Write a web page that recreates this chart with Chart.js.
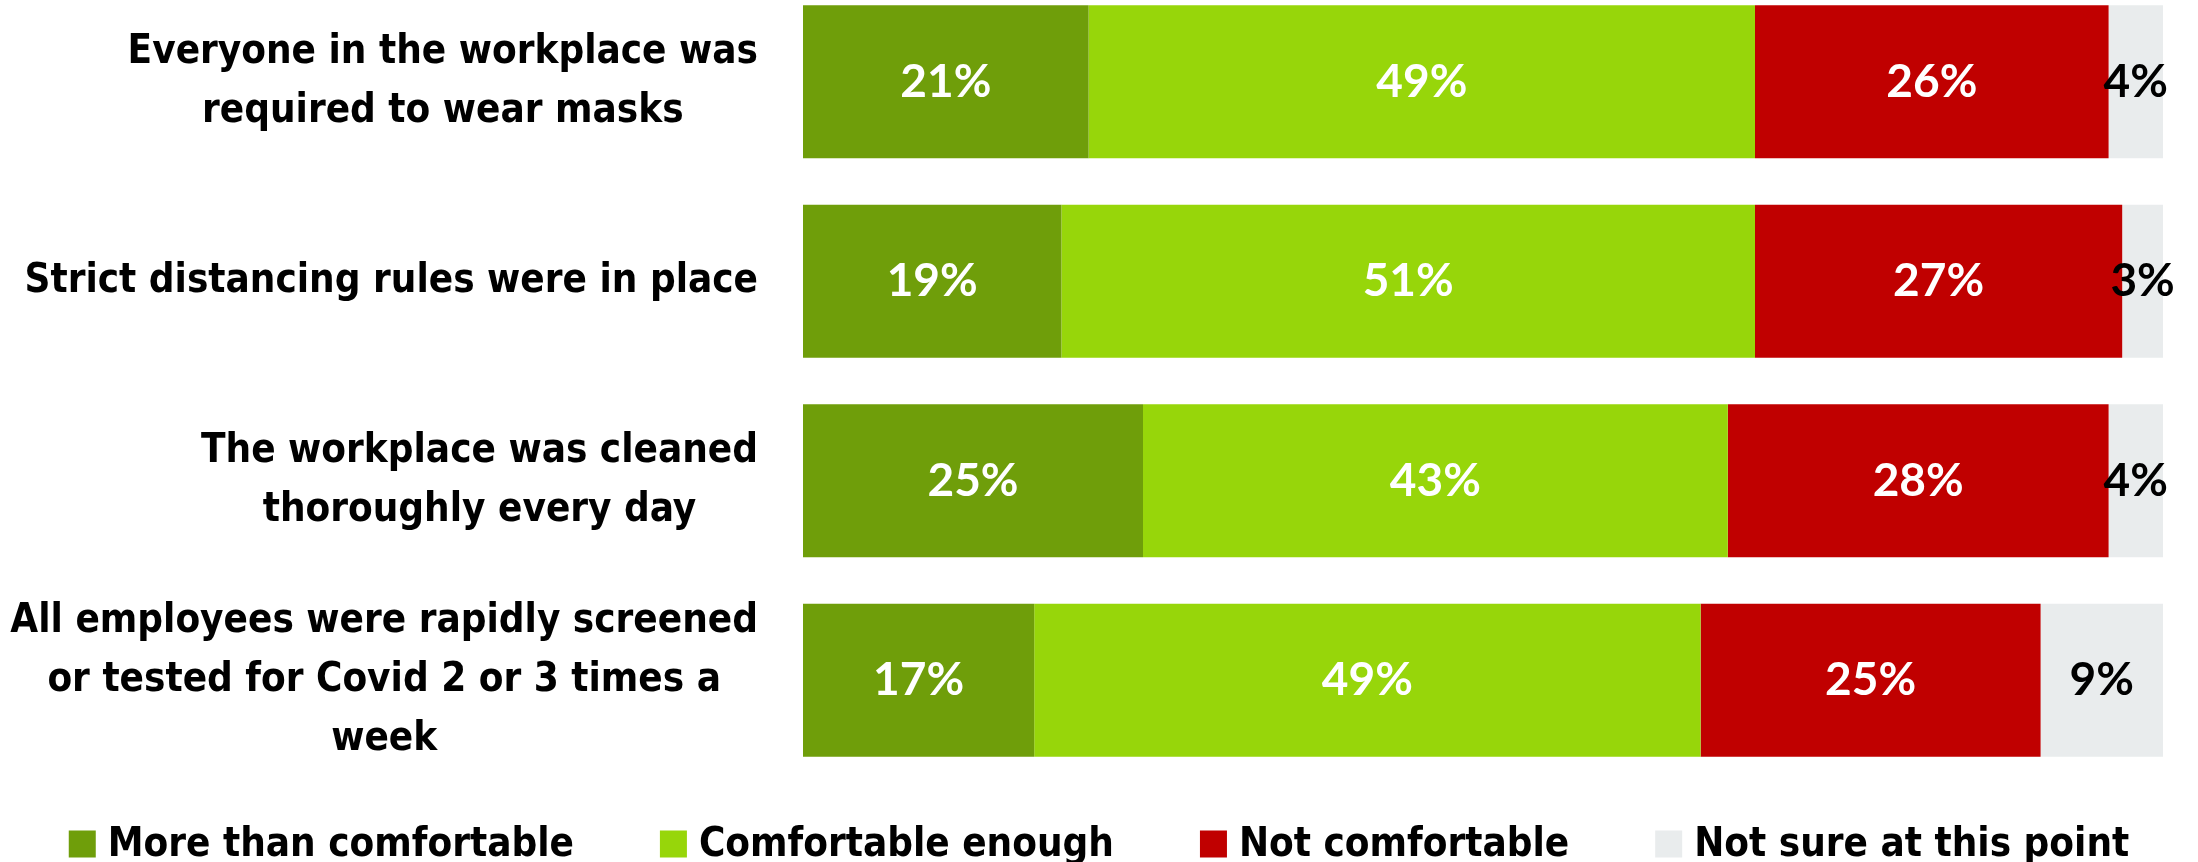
<!DOCTYPE html>
<html>
<head>
<meta charset="utf-8">
<script src="https://cdn.jsdelivr.net/npm/chart.js@4"></script>
<style>
  html, body { margin: 0; padding: 0; background: #ffffff; overflow: hidden; }
  /* canvas is taller than the page so the first row sits close to the top edge */
  canvas { display: block; margin-top: -18px; }
</style>
</head>
<body>
<canvas id="comfortChart" width="2198" height="880"></canvas>
<script>
// Survey question rows (each entry = the wrapped lines of one label)
const categories = [
  ['Everyone in the workplace was', 'required to wear masks'],
  ['Strict distancing rules were in place'],
  ['The workplace was cleaned', 'thoroughly every day'],
  ['All employees were rapidly screened', 'or tested for Covid 2 or 3 times a', 'week']
];

// Share of respondents per answer, in percent
const moreThanComfortable = [21, 19, 25, 17];
const comfortableEnough = [49, 51, 43, 49];
const notComfortable = [26, 27, 28, 25];
const notSure = [4, 3, 4, 9];

const seriesNames = ['More than comfortable', 'Comfortable enough', 'Not comfortable', 'Not sure at this point'];
const seriesValues = [moreThanComfortable, comfortableEnough, notComfortable, notSure];
const seriesColors = ['#6f9e0a', '#97d60a', '#c00000', '#e9eced'];
const valueColors = ['#ffffff', '#ffffff', '#ffffff', '#000000'];

const labelFont = 'bold 40px "DejaVu Sans Condensed", "DejaVu Sans", sans-serif';
const valueFont = 'bold 46px Lato, "Open Sans", sans-serif';

// Row labels: block is right-aligned to the bars, lines centred inside the block
const rowLabels = {
  id: 'rowLabels',
  afterDraw(chart) {
    const ctx = chart.ctx;
    const yScale = chart.scales.y;
    const right = chart.chartArea.left - 45;
    const lineHeight = 59;
    ctx.save();
    ctx.font = labelFont;
    ctx.fillStyle = '#000000';
    ctx.textAlign = 'center';
    ctx.textBaseline = 'middle';
    categories.forEach((lines, i) => {
      const widest = Math.max(...lines.map(l => ctx.measureText(l).width));
      const cx = right - widest / 2;
      const cy = yScale.getPixelForValue(i);
      const startY = cy - (lines.length - 1) * lineHeight / 2;
      lines.forEach((line, j) => ctx.fillText(line, cx, startY + j * lineHeight));
    });
    ctx.restore();
  }
};

// Percent labels centred in every segment
const segmentValues = {
  id: 'segmentValues',
  afterDatasetsDraw(chart) {
    const ctx = chart.ctx;
    ctx.save();
    ctx.font = valueFont;
    ctx.textAlign = 'center';
    ctx.textBaseline = 'middle';
    chart.data.datasets.forEach((ds, di) => {
      const meta = chart.getDatasetMeta(di);
      ctx.fillStyle = valueColors[di];
      meta.data.forEach((bar, i) => {
        const x = (bar.x + bar.base) / 2;
        ctx.fillText(ds.data[i] + '%', x, bar.y);
      });
    });
    ctx.restore();
  }
};

// Legend row along the bottom edge
const bottomLegend = {
  id: 'bottomLegend',
  afterDraw(chart) {
    const ctx = chart.ctx;
    const box = 27;
    const boxGap = 12;
    const itemGap = 86;
    const cy = chart.height - 18;
    ctx.save();
    ctx.font = labelFont;
    ctx.textBaseline = 'middle';
    ctx.textAlign = 'left';
    const items = chart.data.datasets.map(ds => ({
      text: ds.label,
      color: ds.backgroundColor,
      width: box + boxGap + ctx.measureText(ds.label).width
    }));
    const total = items.reduce((s, it) => s + it.width, 0) + itemGap * (items.length - 1);
    let x = (chart.width - total) / 2;
    items.forEach(it => {
      ctx.fillStyle = it.color;
      ctx.fillRect(x, cy - box / 2, box, box);
      ctx.fillStyle = '#000000';
      ctx.fillText(it.text, x + box + boxGap, cy + 2);
      x += it.width + itemGap;
    });
    ctx.restore();
  }
};

const ctx = document.getElementById('comfortChart').getContext('2d');
const comfortChart = new Chart(ctx, {
  type: 'bar',
  data: {
    labels: categories,
    datasets: seriesNames.map((name, i) => ({
      label: name,
      data: seriesValues[i],
      backgroundColor: seriesColors[i],
      borderWidth: 0,
      barPercentage: 0.767,
      categoryPercentage: 1
    }))
  },
  options: {
    indexAxis: 'y',
    responsive: false,
    animation: false,
    layout: {
      padding: { left: 803, right: 35, top: 0, bottom: 82 }
    },
    scales: {
      x: { stacked: true, min: 0, max: 100, display: false },
      y: { stacked: true, display: false }
    },
    plugins: {
      legend: { display: false },
      tooltip: { enabled: false }
    }
  },
  plugins: [rowLabels, segmentValues, bottomLegend]
});
</script>
</body>
</html>
